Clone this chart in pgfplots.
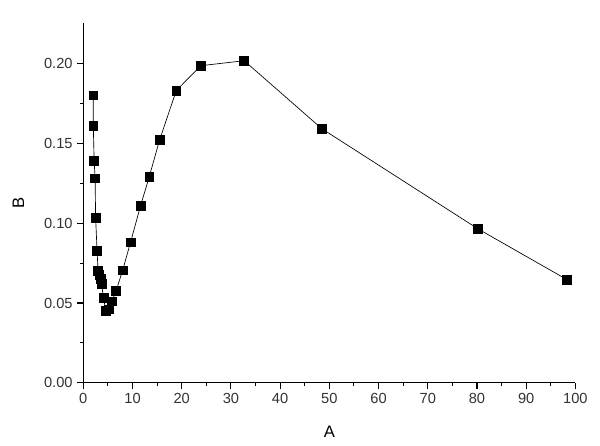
\documentclass[border=0pt]{standalone}
\usepackage{fontspec}
\setmainfont{Liberation Sans}
\usepackage{pgfplots}
\pgfplotsset{compat=1.18}

\begin{document}
\begin{tikzpicture}
  \begin{axis}[
      scale only axis,
      width=369.5pt,
      height=270pt,
      xmin=0, xmax=100,
      ymin=0, ymax=0.225,
      axis x line*=bottom,
      axis y line*=left,
      axis line style={line width=0.8pt},
      xtick={0,10,...,100},
      ytick={0,0.05,0.10,0.15,0.20},
      minor x tick num=1,
      minor y tick num=1,
      tick align=outside,
      major tick length=4.5pt,
      minor tick length=2.5pt,
      tick style={black, line width=0.8pt},
      yticklabel style={/pgf/number format/fixed,/pgf/number format/fixed zerofill,/pgf/number format/precision=2},
      /pgf/number format/assume math mode=true,
      tick label style={font=\fontsize{11}{13}\selectfont, text=black!80},
      label style={font=\fontsize{12.5}{14}\selectfont},
      xlabel={A},
      ylabel={B},
      xlabel style={at={(axis description cs:0.5,-0.136)}, anchor=center},
      ylabel style={at={(axis description cs:-0.132,0.5)}, anchor=center},
      clip=false,
    ]
    \addplot[black, line width=0.5pt, mark=square*, mark size=3.3pt,
             mark options={solid, fill=black}] coordinates {
      (2.03,0.180) (2.03,0.161) (2.2,0.139) (2.4,0.128) (2.5,0.1035)
      (2.8,0.0825) (3.0,0.070) (3.25,0.0677) (3.5,0.065) (3.7,0.062)
      (4.1,0.053) (4.6,0.045) (5.2,0.046) (5.8,0.051) (6.65,0.0575)
      (8.0,0.0705) (9.6,0.088) (11.65,0.111) (13.4,0.129) (15.5,0.152)
      (18.9,0.183) (23.9,0.1985) (32.7,0.2016) (48.5,0.159)
      (80.2,0.0964) (98.3,0.0646)
    };
    \path (axis cs:-16.93,-0.0392) (axis cs:105.0,0.2396);
  \end{axis}
\end{tikzpicture}
\end{document}
